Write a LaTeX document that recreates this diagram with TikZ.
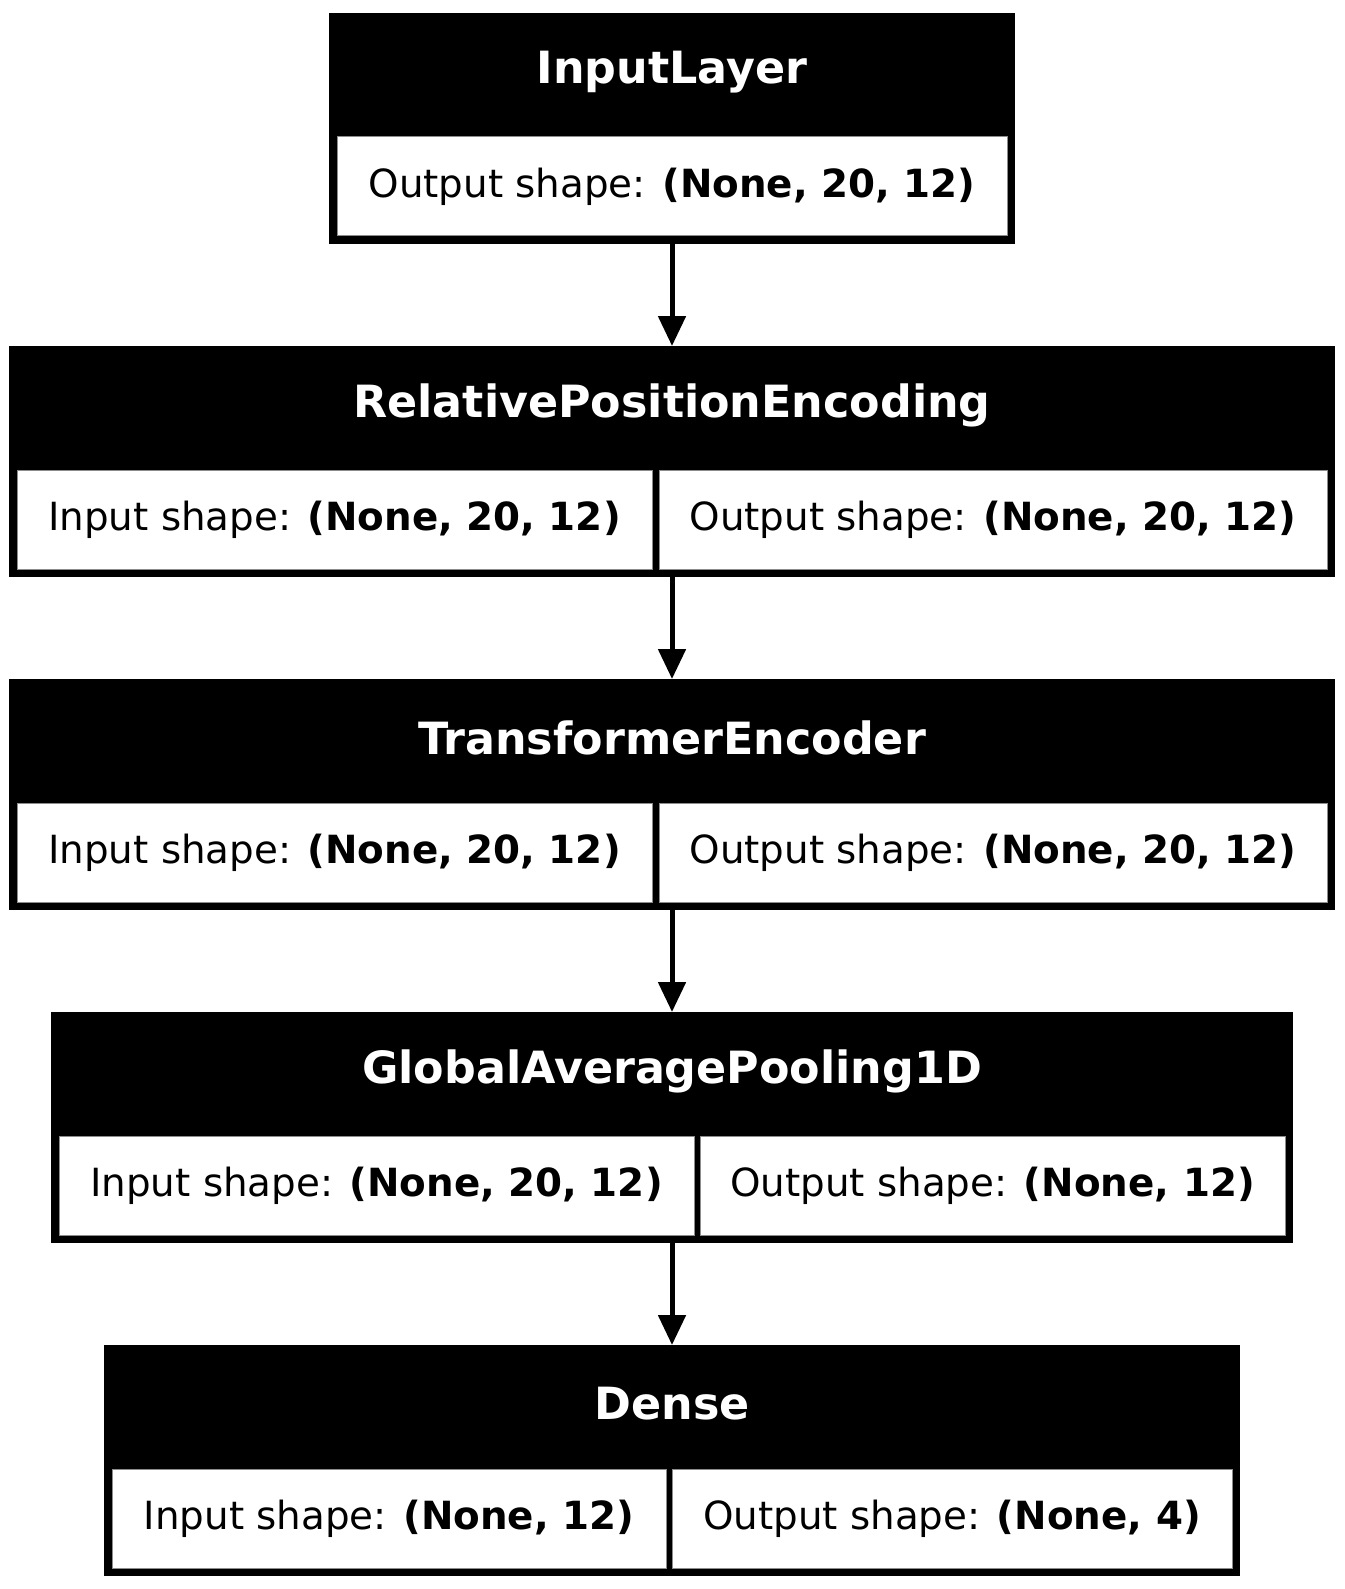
\documentclass[tikz,border=0pt]{standalone}
\usepackage{fontspec}
\setmainfont{DejaVu Sans}
\usetikzlibrary{arrows.meta,fit}

\tikzset{
  layer/.style={fill=black, inner sep=0pt, outer sep=0pt},
  cell/.style={fill=white, draw=black!45, line width=0.5pt, inner sep=0pt, outer sep=0pt},
  shape text/.style={inner sep=0pt, font=\fontsize{19.4}{23}\selectfont},
  title/.style={text=white, inner sep=0pt, font=\fontsize{22.2}{27}\selectfont\bfseries},
  flow/.style={-{Triangle[length=15pt,width=13.5pt]}, line width=2.5pt},
}

\begin{document}
\begin{tikzpicture}[x=0.5pt, y=-0.5pt]
  \useasboundingbox (0,0) rectangle (1344,1589);

  % input
  \node[layer, fit={(329,13) (1015,244)}] (inp) {};
  \node[title] (inpT) at (672,72) {InputLayer};
  \node[cell, fit={(337,137) (1007,236)}] (inpO) {};
  \node[shape text] (inpOt) at (inpO) {Output shape: \textbf{(None, 20, 12)}};

  % relative position encoding
  \node[layer, fit={(9,346) (1335,577)}] (rpe) {};
  \node[title] (rpeT) at (672,405) {RelativePositionEncoding};
  \node[cell, fit={(17,470) (652,569)}] (rpeI) {};
  \node[cell, fit={(659,470) (1327,569)}] (rpeO) {};
  \node[shape text] (rpeIt) at (rpeI) {Input shape: \textbf{(None, 20, 12)}};
  \node[shape text] (rpeOt) at (rpeO) {Output shape: \textbf{(None, 20, 12)}};

  % encoder
  \node[layer, fit={(9,679) (1335,910)}] (enc) {};
  \node[title] (encT) at (672,738) {TransformerEncoder};
  \node[cell, fit={(17,803) (652,902)}] (encI) {};
  \node[cell, fit={(659,803) (1327,902)}] (encO) {};
  \node[shape text] (encIt) at (encI) {Input shape: \textbf{(None, 20, 12)}};
  \node[shape text] (encOt) at (encO) {Output shape: \textbf{(None, 20, 12)}};

  % pooling
  \node[layer, fit={(51,1012) (1293,1243)}] (gap) {};
  \node[title] (gapT) at (672,1071) {GlobalAveragePooling1D};
  \node[cell, fit={(59,1136) (694,1235)}] (gapI) {};
  \node[cell, fit={(700,1136) (1285,1235)}] (gapO) {};
  \node[shape text] (gapIt) at (gapI) {Input shape: \textbf{(None, 20, 12)}};
  \node[shape text] (gapOt) at (gapO) {Output shape: \textbf{(None, 12)}};

  % dense
  \node[layer, fit={(104,1345) (1240,1576)}] (dense) {};
  \node[title] (denseT) at (672,1404) {Dense};
  \node[cell, fit={(112,1469) (666,1568)}] (denseI) {};
  \node[cell, fit={(672,1469) (1232,1568)}] (denseO) {};
  \node[shape text] (denseIt) at (denseI) {Input shape: \textbf{(None, 12)}};
  \node[shape text] (denseOt) at (denseO) {Output shape: \textbf{(None, 4)}};

  \draw[flow] (inp) -- (rpe);
  \draw[flow] (rpe) -- (enc);
  \draw[flow] (enc) -- (gap);
  \draw[flow] (gap) -- (dense);
\end{tikzpicture}
\end{document}
